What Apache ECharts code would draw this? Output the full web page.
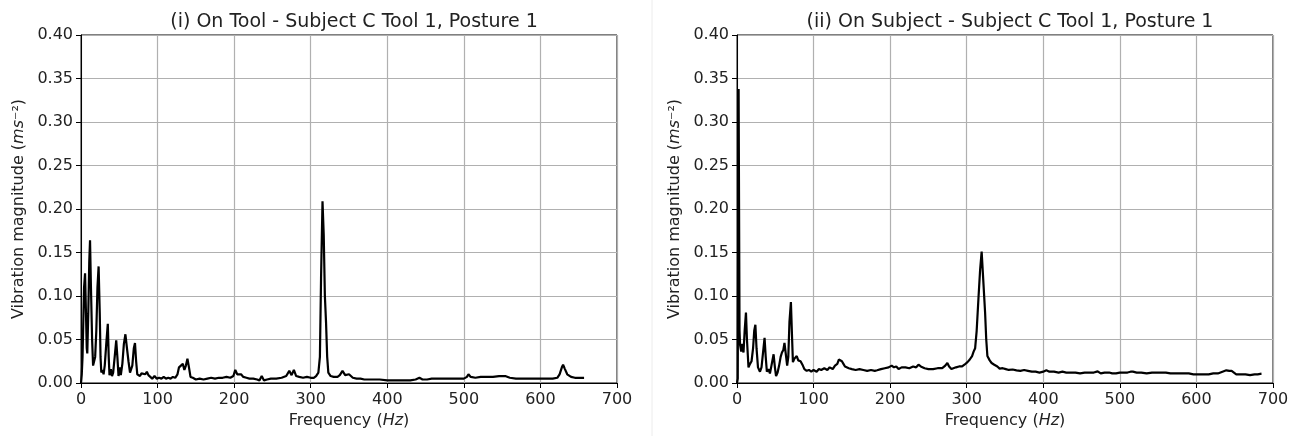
<!DOCTYPE html>
<html>
<head>
<meta charset="utf-8">
<script src="https://cdn.jsdelivr.net/npm/echarts@6/dist/echarts.min.js"></script>
<style>
  html, body { margin: 0; padding: 0; background: #fff; }
  #main { width: 1297px; height: 436px; }
</style>
</head>
<body>
<div id="main"></div>
<script>
// spectra (Hz, m/s^2)
var leftFreq = [0, 1, 2, 3, 4, 5.3, 6.5, 7.5, 8.2, 9.5, 10.8, 11.8, 13, 14.5, 15.8, 17, 18.5, 20, 21.5, 23, 24.5, 25.5, 26.5, 28, 29.5, 31, 33, 35, 36.2, 37.2, 39, 40.5, 42, 44, 46, 47.5, 49, 50.5, 52, 54, 56, 58, 60, 62, 64, 65.5, 67, 69, 70.5, 72, 73.5, 75, 77, 79, 81, 84, 86, 88, 90, 93, 96, 99, 102, 105, 108, 111, 114, 117, 120, 123, 126, 128, 130, 133, 135, 137, 139, 141, 143, 146, 150, 155, 160, 165, 170, 175, 180, 185, 190, 195, 199, 201.5, 204, 206, 209, 212, 216, 220, 225, 230, 233, 236, 239, 243, 248, 255, 262, 268, 272, 275, 278, 281, 285, 290, 295, 300, 304, 307, 310, 312, 313.5, 315.4, 317, 318.5, 320, 321.5, 323, 326, 330, 335, 338, 341.5, 345, 350, 355, 360, 365, 370, 380, 390, 400, 410, 420, 430, 437, 442, 446, 452, 458, 464, 470, 478, 486, 494, 500, 504, 506, 509, 515, 522, 530, 538, 546, 554, 560, 568, 576, 584, 592, 600, 608, 616, 622, 625, 628, 629.6, 632, 635, 640, 645, 650, 657];
var leftMag = [0.000, 0.010, 0.030, 0.070, 0.110, 0.126, 0.080, 0.040, 0.034, 0.080, 0.140, 0.164, 0.110, 0.050, 0.020, 0.022, 0.030, 0.060, 0.110, 0.134, 0.080, 0.030, 0.012, 0.015, 0.010, 0.020, 0.045, 0.068, 0.030, 0.009, 0.016, 0.008, 0.012, 0.030, 0.049, 0.030, 0.008, 0.018, 0.009, 0.022, 0.045, 0.056, 0.040, 0.025, 0.012, 0.010, 0.020, 0.040, 0.046, 0.025, 0.010, 0.012, 0.008, 0.011, 0.009, 0.010, 0.013, 0.009, 0.008, 0.005, 0.008, 0.005, 0.006, 0.005, 0.007, 0.005, 0.006, 0.005, 0.007, 0.006, 0.010, 0.018, 0.020, 0.022, 0.015, 0.020, 0.028, 0.018, 0.007, 0.006, 0.004, 0.005, 0.004, 0.005, 0.006, 0.005, 0.006, 0.006, 0.007, 0.006, 0.008, 0.015, 0.010, 0.008, 0.010, 0.007, 0.006, 0.005, 0.005, 0.004, 0.003, 0.008, 0.003, 0.004, 0.005, 0.005, 0.006, 0.008, 0.014, 0.009, 0.015, 0.008, 0.007, 0.006, 0.007, 0.006, 0.006, 0.008, 0.012, 0.030, 0.120, 0.209, 0.170, 0.100, 0.070, 0.030, 0.012, 0.008, 0.007, 0.007, 0.009, 0.014, 0.009, 0.010, 0.006, 0.005, 0.005, 0.004, 0.004, 0.004, 0.003, 0.003, 0.003, 0.003, 0.004, 0.006, 0.004, 0.004, 0.005, 0.005, 0.005, 0.005, 0.005, 0.005, 0.005, 0.007, 0.010, 0.007, 0.006, 0.007, 0.007, 0.007, 0.008, 0.008, 0.006, 0.005, 0.005, 0.005, 0.005, 0.005, 0.005, 0.005, 0.006, 0.010, 0.018, 0.021, 0.016, 0.010, 0.007, 0.006, 0.006, 0.006];

var rightFreq = [0, 1, 1.6, 2.1, 2.7, 3.3, 4, 5.5, 7, 8.5, 10, 11.7, 13, 15, 17, 19, 21, 22.5, 24, 25.5, 27.4, 29, 30, 32, 34, 36, 37.5, 39, 41, 43, 45, 47.8, 49.5, 51, 53, 55, 57, 58.7, 60.5, 62, 63.5, 65.5, 67, 68.5, 70.4, 72, 73, 75, 78, 80, 83, 86, 88, 91, 94, 97, 100, 104, 107, 110, 114, 118, 121, 125, 128, 131, 133, 135, 137, 139, 141, 143, 146, 150, 155, 160, 165, 170, 175, 180, 183, 188, 193, 198, 202, 205, 208, 211, 215, 220, 225, 230, 234, 237, 240, 245, 250, 256, 262, 268, 272, 274.7, 277, 280, 282, 286, 290, 294, 297, 301, 304, 307, 309, 311, 313, 315.5, 317.5, 319.5, 321.5, 324, 325.5, 327, 330, 332.5, 336, 340, 343, 347, 351, 355, 360, 365, 370, 375, 380, 385, 390, 395, 400, 404, 408, 414, 420, 425, 430, 436, 442, 448, 454, 460, 466, 471, 475, 480, 486, 490, 495, 500, 505, 510, 514, 517, 522, 528, 535, 542, 550, 556, 560, 566, 572, 578, 584, 590, 596, 604, 610, 616, 622, 628, 634, 639, 643, 646, 649, 652, 658, 664, 670, 676, 680, 685];
var rightMag = [0.000, 0.005, 0.200, 0.338, 0.200, 0.060, 0.044, 0.036, 0.045, 0.035, 0.060, 0.081, 0.050, 0.018, 0.022, 0.025, 0.040, 0.060, 0.067, 0.040, 0.018, 0.020, 0.013, 0.018, 0.035, 0.052, 0.030, 0.013, 0.016, 0.011, 0.020, 0.033, 0.018, 0.008, 0.012, 0.020, 0.030, 0.035, 0.038, 0.046, 0.035, 0.020, 0.030, 0.070, 0.093, 0.050, 0.024, 0.028, 0.031, 0.026, 0.025, 0.020, 0.016, 0.014, 0.015, 0.013, 0.015, 0.013, 0.016, 0.015, 0.017, 0.015, 0.018, 0.016, 0.020, 0.022, 0.027, 0.029, 0.025, 0.022, 0.019, 0.018, 0.017, 0.016, 0.015, 0.016, 0.015, 0.014, 0.015, 0.014, 0.0146, 0.016, 0.017, 0.018, 0.020, 0.018, 0.019, 0.016, 0.018, 0.018, 0.017, 0.019, 0.018, 0.021, 0.019, 0.017, 0.016, 0.016, 0.017, 0.017, 0.020, 0.023, 0.019, 0.016, 0.016, 0.018, 0.019, 0.019, 0.021, 0.024, 0.027, 0.031, 0.036, 0.040, 0.060, 0.100, 0.130, 0.151, 0.120, 0.081, 0.050, 0.031, 0.026, 0.023, 0.021, 0.019, 0.0165, 0.017, 0.016, 0.015, 0.0155, 0.0146, 0.014, 0.015, 0.014, 0.013, 0.013, 0.012, 0.013, 0.0146, 0.013, 0.013, 0.012, 0.013, 0.012, 0.012, 0.012, 0.011, 0.012, 0.012, 0.012, 0.0134, 0.011, 0.012, 0.012, 0.011, 0.011, 0.012, 0.012, 0.012, 0.013, 0.013, 0.012, 0.012, 0.011, 0.012, 0.012, 0.012, 0.012, 0.011, 0.011, 0.011, 0.011, 0.011, 0.010, 0.010, 0.010, 0.010, 0.011, 0.011, 0.013, 0.0146, 0.014, 0.014, 0.012, 0.010, 0.010, 0.010, 0.009, 0.010, 0.010, 0.0107];

var titles = ['(i) On Tool - Subject C Tool 1, Posture 1', '(ii) On Subject - Subject C Tool 1, Posture 1'];

function pairs(xs, ys) {
  var out = [];
  for (var i = 0; i < xs.length; i++) out.push([xs[i], ys[i]]);
  return out;
}

var font = 'DejaVu Sans';
var gridLefts = [81, 737];

function xAx(i) {
  return {
    type: 'value', gridIndex: i, min: 0, max: 700, interval: 100,
    name: '{n|Frequency (}{i|Hz}{n|)}',
    nameLocation: 'middle', nameGap: 29,
    nameTextStyle: {
      rich: {
        n: { fontFamily: font, fontSize: 16, color: '#222' },
        i: { fontFamily: font, fontSize: 16, fontStyle: 'italic', color: '#222' }
      }
    },
    axisLine: { show: true, lineStyle: { color: '#000', width: 1 } },
    axisTick: { show: true, length: 5, lineStyle: { color: '#000' } },
    axisLabel: { fontFamily: font, fontSize: 16, color: '#222', margin: 9 },
    splitLine: { show: true, lineStyle: { color: '#b0b0b0', width: 1.2 } }
  };
}

function yAx(i) {
  return {
    type: 'value', gridIndex: i, min: 0, max: 0.4, interval: 0.05,
    name: '{n|Vibration magnitude (}{i|ms}{n|⁻²)}',
    nameLocation: 'middle', nameGap: 54, nameRotate: 90,
    nameTextStyle: {
      rich: {
        n: { fontFamily: font, fontSize: 16, color: '#222' },
        i: { fontFamily: font, fontSize: 16, fontStyle: 'italic', color: '#222' }
      }
    },
    axisLine: { show: true, lineStyle: { color: '#000', width: 1 } },
    axisTick: { show: true, length: 5, lineStyle: { color: '#000' } },
    axisLabel: {
      fontFamily: font, fontSize: 16, color: '#222', margin: 8,
      formatter: function (v) { return v.toFixed(2); }
    },
    splitLine: { show: true, lineStyle: { color: '#b0b0b0', width: 1.2 } }
  };
}

var chart = echarts.init(document.getElementById('main'), null, { renderer: 'canvas' });
chart.setOption({
  backgroundColor: '#fff',
  animation: false,
  title: [0, 1].map(function (i) {
    return {
      text: titles[i], left: gridLefts[i] + 268, top: 8, textAlign: 'center',
      textStyle: { fontFamily: font, fontSize: 19, fontWeight: 'normal', color: '#222' }
    };
  }),
  graphic: [{
    type: 'line', shape: { x1: 652, y1: 0, x2: 652, y2: 436 },
    style: { stroke: '#ececec', lineWidth: 1 }
  }],
  grid: [0, 1].map(function (i) {
    return {
      left: gridLefts[i], top: 35, width: 536, height: 348,
      show: true, borderColor: '#000', borderWidth: 1, backgroundColor: 'transparent'
    };
  }),
  xAxis: [xAx(0), xAx(1)],
  yAxis: [yAx(0), yAx(1)],
  series: [
    {
      type: 'line', xAxisIndex: 0, yAxisIndex: 0, data: pairs(leftFreq, leftMag),
      showSymbol: false, lineStyle: { color: '#000', width: 2.2 }, z: 5
    },
    {
      type: 'line', xAxisIndex: 1, yAxisIndex: 1, data: pairs(rightFreq, rightMag),
      showSymbol: false, lineStyle: { color: '#000', width: 2.2 }, z: 5
    }
  ]
});
</script>
</body>
</html>
